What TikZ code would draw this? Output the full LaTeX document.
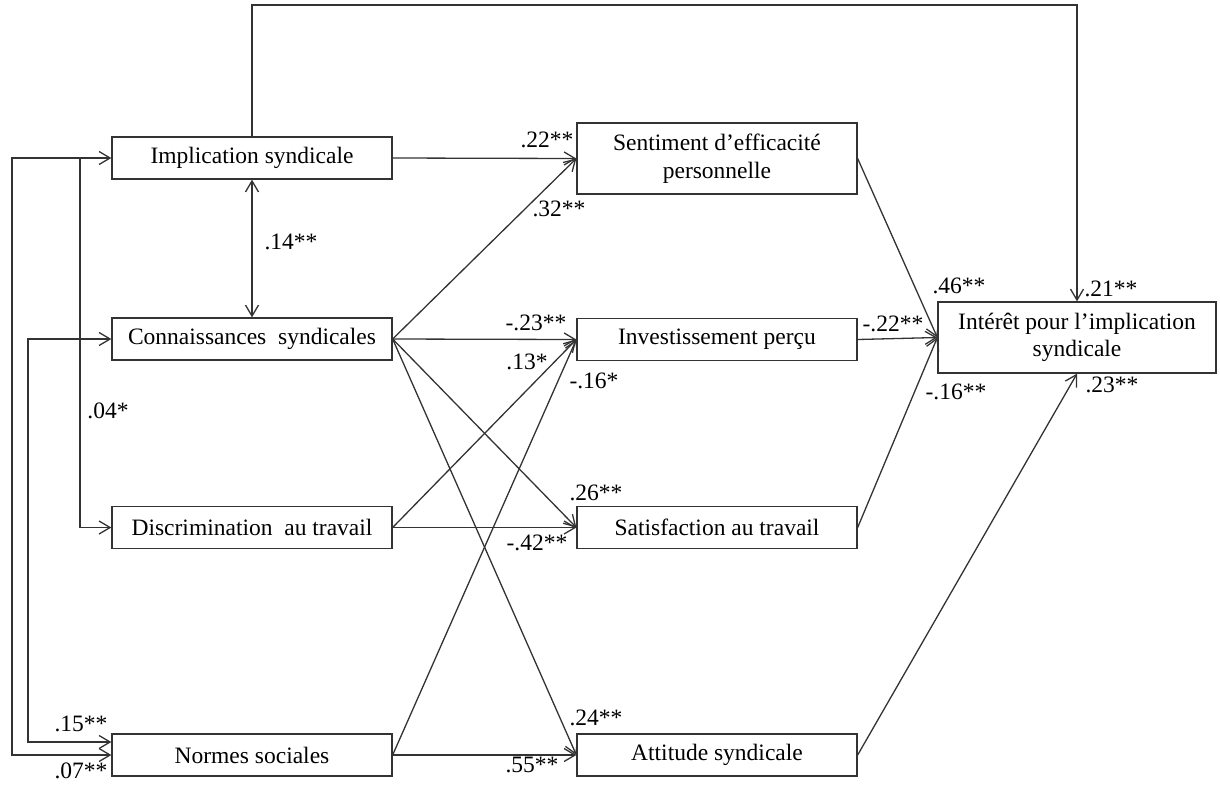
\documentclass[tikz,border=0pt]{standalone}
\usepackage{fontspec}
\setmainfont{Liberation Serif}
\usetikzlibrary{arrows.meta}
\definecolor{linec}{HTML}{333333}
\begin{document}
\begin{tikzpicture}[x=1pt,y=-1pt,
  box/.style={draw=linec, line width=1.3pt, minimum width=280pt, minimum height=42pt,
    inner sep=0pt, align=center, font=\fontsize{23.5}{27.5}\selectfont},
  lab/.style={inner sep=0pt, anchor=center, font=\fontsize{23.5}{27.5}\selectfont},
  tip/.tip={Straight Barb[length=11pt,width=13pt,line width=1.3pt]},
  arr/.style={draw=linec, line width=1.3pt, -tip},
  dbl/.style={draw=linec, line width=1.3pt, tip-tip}]
\useasboundingbox (0,0) rectangle (1220,788);
% boxes
\node[box] (Impl) at (252,158) {Implication syndicale};
\node[box] (Conn) at (252,339) {Connaissances\ \ syndicales};
\node[box] (Disc) at (252,527.5) {Discrimination\ \ au travail};
\node[box] (Norm) at (252,755) {Normes sociales};
\node[box, minimum height=71pt] (Sent) at (717,158.5) {Sentiment d’efficacité\\personnelle};
\node[box] (Inv) at (717,339.5) {Investissement perçu};
\node[box] (Sat) at (717,527.5) {Satisfaction au travail};
\node[box] (Att) at (717,755) {Attitude syndicale};
\node[box, minimum width=278pt, minimum height=71pt] (Int) at (1077,337.5) {Intérêt pour l’implication\\syndicale};
% helper coordinates
\coordinate (xo) at (12,0);
\coordinate (xm) at (28,0);
\coordinate (xi) at (80,0);
\coordinate (top) at (0,5);
\coordinate (nu) at ([yshift=13pt]Norm.west);
% left correlations
\draw[dbl] (Impl.west) -- (Impl.west -| xo) -- (xo |- Norm.west) -- (Norm.west);
\draw[dbl] (Conn.west) -- (Conn.west -| xm) -- (xm |- nu) -- (nu);
\draw[arr] (Impl.west -| xi) -- (xi |- Disc.west) -- (Disc.west);
\draw[dbl] (Impl.south) -- (Conn.south |- Conn.north);
% top path
\draw[arr] (Impl.north) -- (Impl.north |- top) -- (top -| Int.north) -- (Int.north);
% left to middle
\draw[arr] (Impl.east) -- (Sent.west);
\draw[arr] (Conn.east) -- (Sent.west);
\draw[arr] (Conn.east) -- (Inv.west);
\draw[arr] (Conn.east) -- (Sat.west);
\draw[arr] (Conn.east) -- (Att.west);
\draw[arr] (Disc.east) -- (Inv.west);
\draw[arr] (Disc.east) -- (Sat.west);
\draw[arr] (Norm.east) -- (Inv.west);
\draw[arr] (Norm.east) -- (Att.west);
% middle to right
\draw[arr] (Sent.east) -- (Int.west);
\draw[arr] (Inv.east) -- (Int.west);
\draw[arr] (Sat.east) -- (Int.west);
\draw[arr] (Att.east) -- (Int.south);
% labels
\node[lab] at (291,242) {.14**};
\node[lab] at (108,411) {.04*};
\node[lab] at (81,724) {.15**};
\node[lab] at (81,771) {.07**};
\node[lab] at (547,140) {.22**};
\node[lab] at (559,209) {.32**};
\node[lab] at (536,323) {-.23**};
\node[lab] at (527,362) {.13*};
\node[lab] at (594,381) {-.16*};
\node[lab] at (596,493) {.26**};
\node[lab] at (537,543) {-.42**};
\node[lab] at (596,718) {.24**};
\node[lab] at (532,765) {.55**};
\node[lab] at (959,286) {.46**};
\node[lab] at (1111,289) {.21**};
\node[lab] at (893,324) {-.22**};
\node[lab] at (956,392) {-.16**};
\node[lab] at (1112,385) {.23**};
\end{tikzpicture}
\end{document}
